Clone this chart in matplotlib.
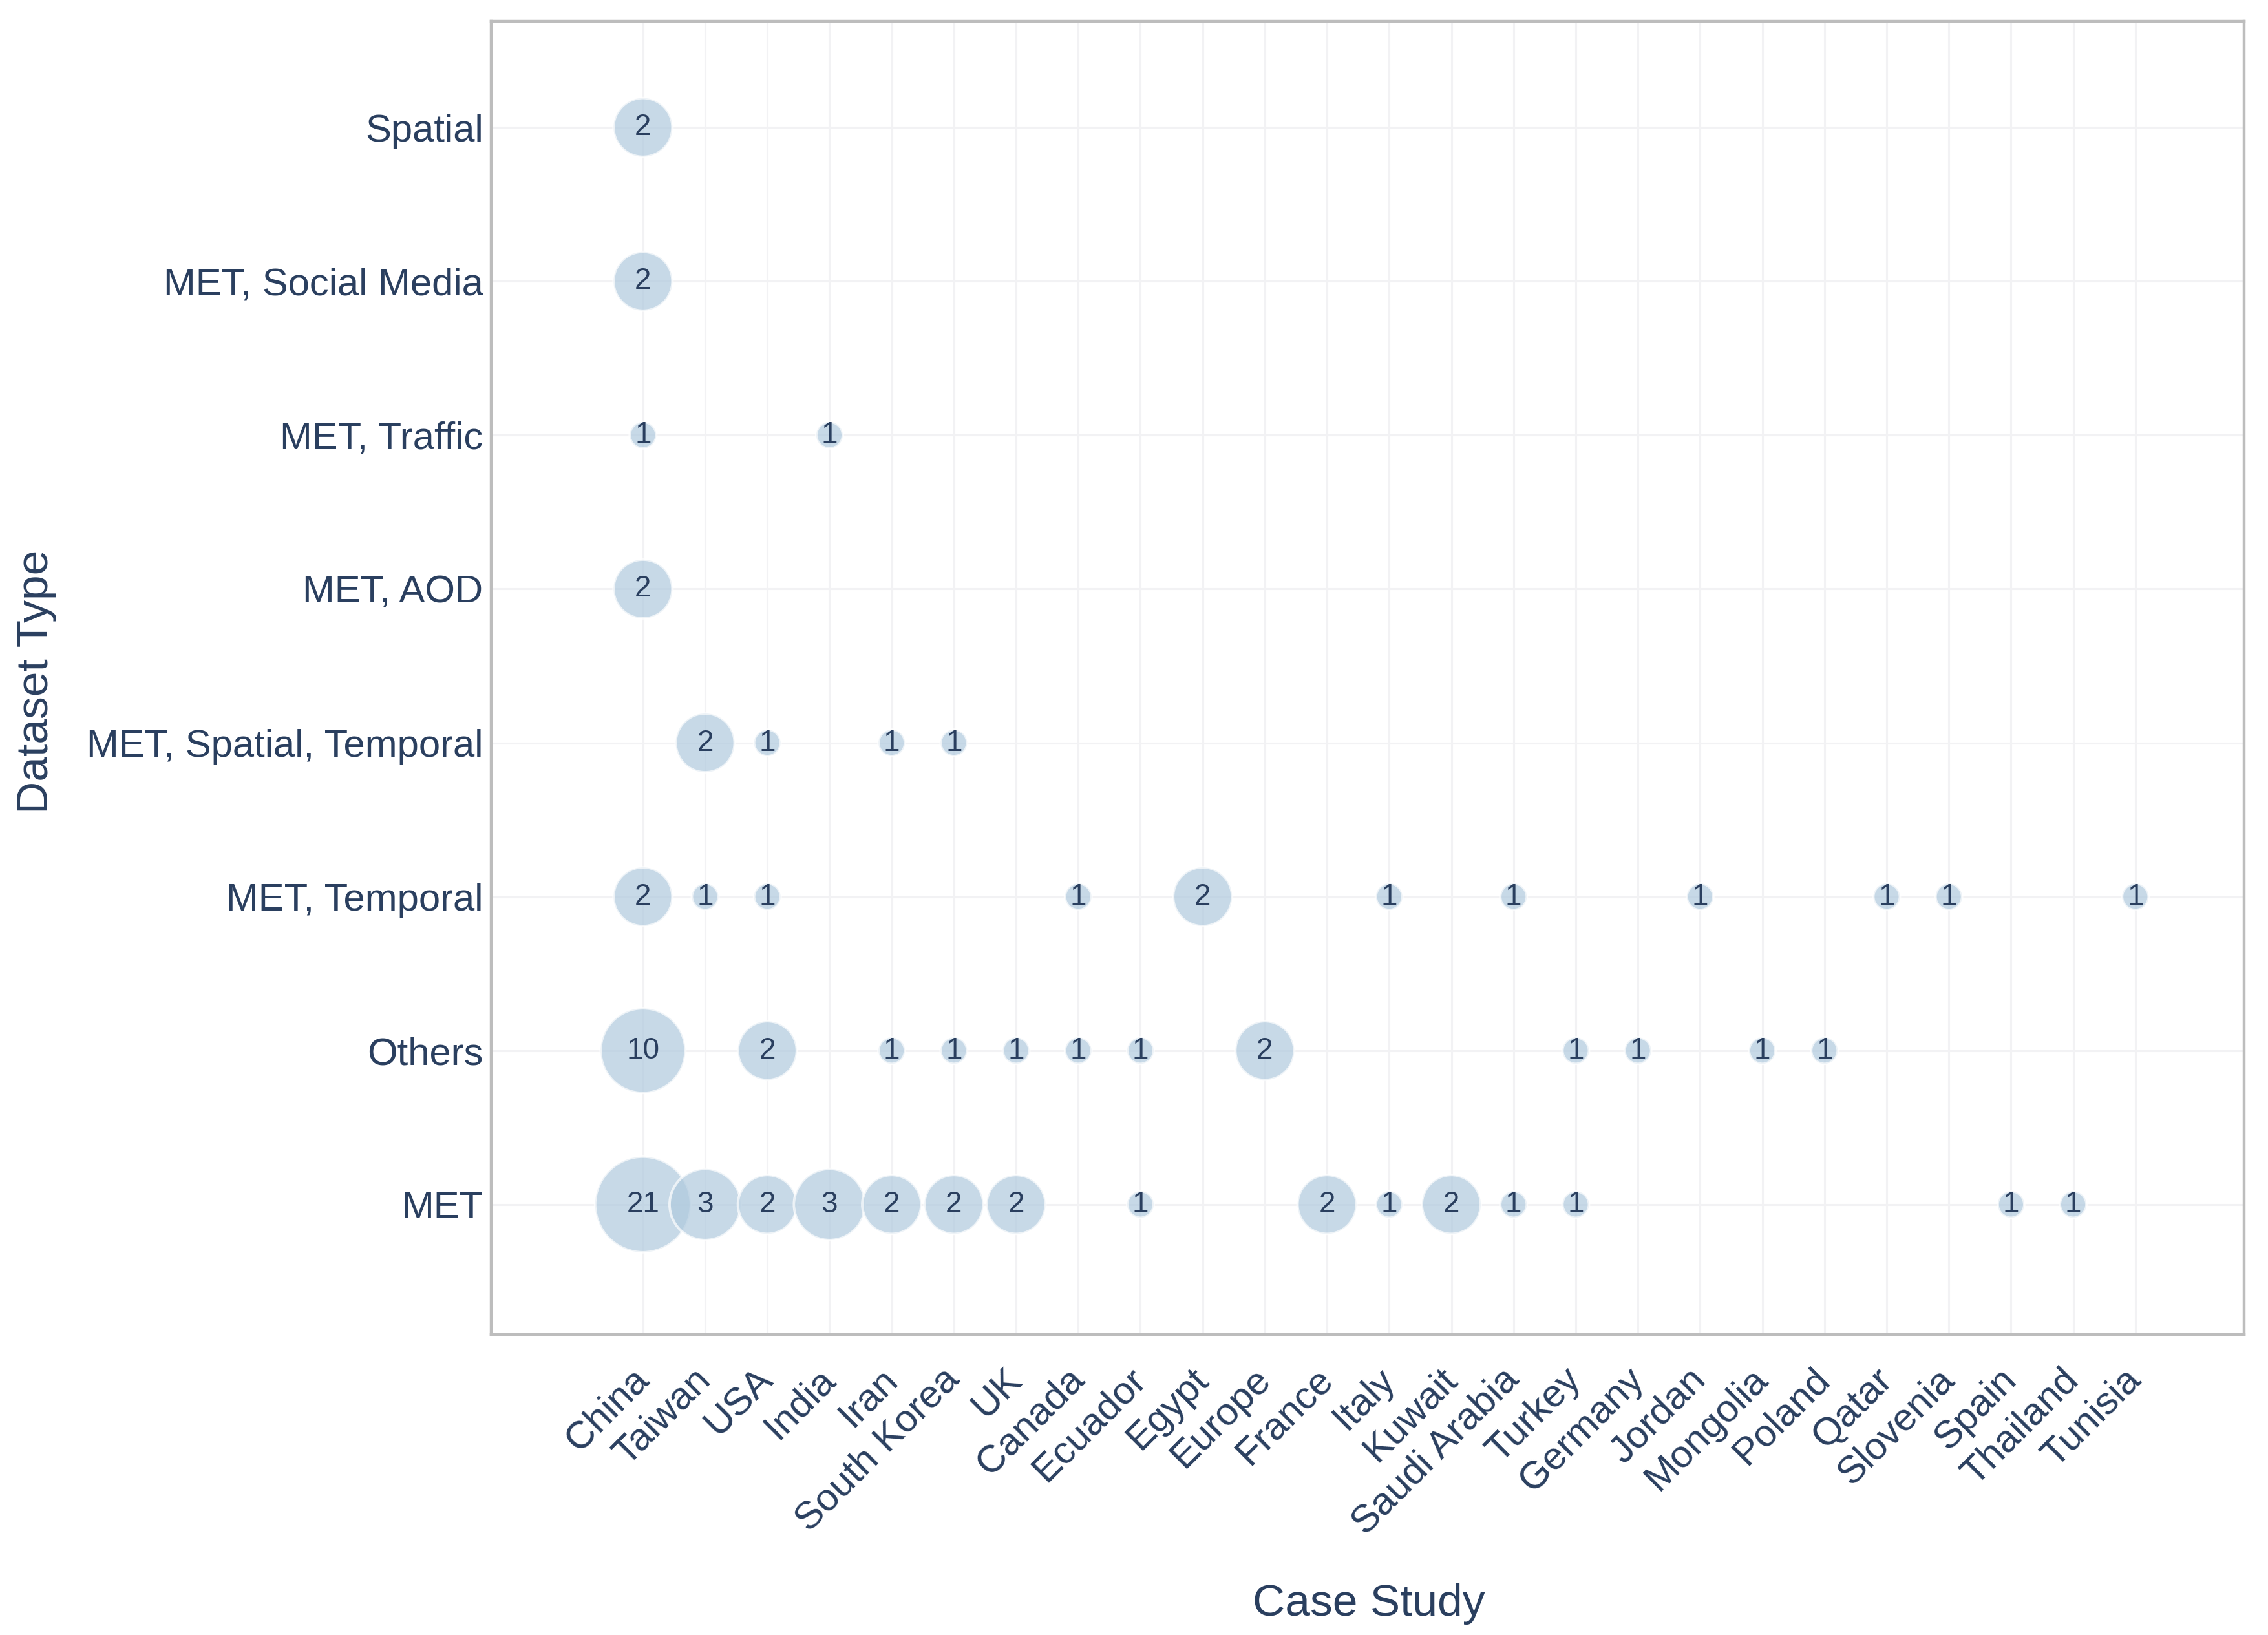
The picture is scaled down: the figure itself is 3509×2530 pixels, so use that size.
"""Bubble chart: dataset type vs. case-study country, bubble = number of studies."""

import numpy as np
import matplotlib
matplotlib.use("Agg")
import matplotlib.pyplot as plt
import matplotlib.transforms as mtransforms

countries = ["China", "Taiwan", "USA", "India", "Iran", "South Korea", "UK",
             "Canada", "Ecuador", "Egypt", "Europe", "France", "Italy", "Kuwait",
             "Saudi Arabia", "Turkey", "Germany", "Jordan", "Mongolia", "Poland",
             "Qatar", "Slovenia", "Spain", "Thailand", "Tunisia"]
dtypes = ["MET", "Others", "MET, Temporal", "MET, Spatial, Temporal",
          "MET, AOD", "MET, Traffic", "MET, Social Media", "Spatial"]

# one entry per bubble
pt_type = (["MET"] * 15 + ["Others"] * 12 + ["MET, Temporal"] * 11
           + ["MET, Spatial, Temporal"] * 4 + ["MET, AOD"] + ["MET, Traffic"] * 2
           + ["MET, Social Media"] + ["Spatial"])
pt_country = ["China", "Taiwan", "USA", "India", "Iran", "South Korea", "UK",
              "Ecuador", "France", "Italy", "Kuwait", "Saudi Arabia", "Turkey",
              "Spain", "Thailand",
              "China", "USA", "Iran", "South Korea", "UK", "Canada", "Ecuador",
              "Europe", "Turkey", "Germany", "Mongolia", "Poland",
              "China", "Taiwan", "USA", "Canada", "Egypt", "Italy", "Saudi Arabia",
              "Jordan", "Qatar", "Slovenia", "Tunisia",
              "Taiwan", "USA", "Iran", "South Korea",
              "China",
              "China", "India",
              "China",
              "China"]
pt_count = [21, 3, 2, 3, 2, 2, 2, 1, 2, 1, 2, 1, 1, 1, 1,
            10, 2, 1, 1, 1, 1, 1, 2, 1, 1, 1, 1,
            2, 1, 1, 1, 2, 1, 1, 1, 1, 1, 1,
            2, 1, 1, 1,
            2,
            1, 1,
            2,
            2]

INK = "#2a3f5f"
BUBBLE = "#b0cade"
plt.rcParams.update({"font.family": ["Liberation Sans", "DejaVu Sans"]})

DPI = 100
fig = plt.figure(figsize=(35.09, 25.30), dpi=DPI)
ax = fig.add_axes([0.2166, 0.1838, 0.9895 - 0.2166, 0.987 - 0.1838])

xs = np.array([countries.index(c) for c in pt_country])
ys = np.array([dtypes.index(t) for t in pt_type])
cnt = np.array(pt_count)

# bubble diameter in pixels
diam_px = np.interp(cnt, [1, 2, 3, 10, 21], [43, 93, 112, 133, 150])
edge = 2.8
size_pt = diam_px * 72 / DPI - edge / 2
order = np.lexsort((xs, ys))
ax.scatter(xs[order], ys[order], s=size_pt[order] ** 2, color=BUBBLE,
           alpha=0.7, edgecolors="white", linewidths=edge, zorder=3)
for x, y, c in zip(xs, ys, cnt):
    ax.text(x, y, str(c), ha="center", va="center", fontsize=33, color=INK,
            zorder=4)

ax.set_xticks(range(len(countries)))
ax.set_xticklabels(countries, rotation=45, ha="right", va="center",
                   rotation_mode="anchor")
shift = mtransforms.ScaledTranslation(10 / DPI, 0, fig.dpi_scale_trans)
for lab in ax.get_xticklabels():
    lab.set_transform(lab.get_transform() + shift)
ax.set_yticks(range(len(dtypes)))
ax.set_yticklabels(dtypes)
ax.tick_params(axis="both", length=0, labelsize=43, labelcolor=INK)
ax.tick_params(axis="x", pad=44)
ax.tick_params(axis="y", pad=9)
ax.set_xlim(-2.44, 25.75)
ax.set_ylim(-0.845, 7.69)

ax.grid(True, color="#f2f2f4", lw=2.2)
ax.set_axisbelow(True)
for s in ax.spines.values():
    s.set_color("#bdbdbd")
    s.set_linewidth(3.2)

fig.text(2118 / 3509, 1 - 2482 / 2530, "Case Study", ha="center", va="center",
         fontsize=50, color=INK)
fig.text(56 / 3509, 1 - 1055 / 2530, "Dataset Type", ha="center", va="center",
         rotation=90, fontsize=50, color=INK)

fig.savefig("out.png", dpi=DPI)
